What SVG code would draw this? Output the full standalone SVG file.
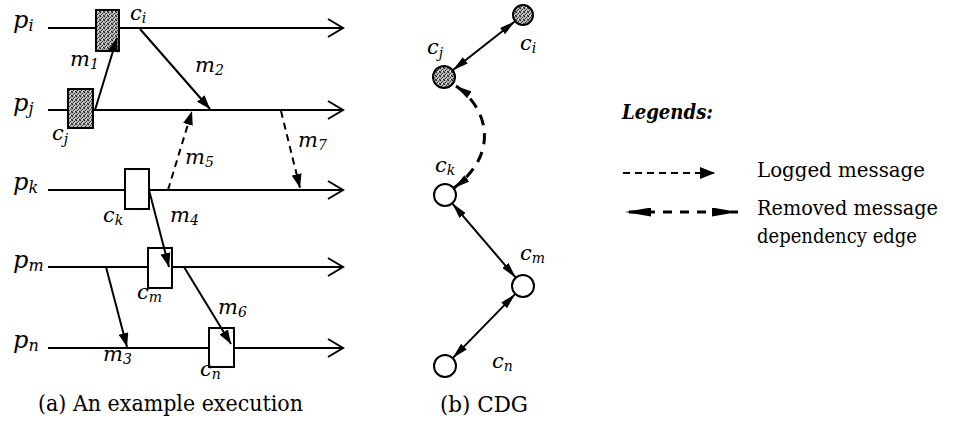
<svg xmlns="http://www.w3.org/2000/svg" width="955" height="426" viewBox="0 0 955 426" font-family="'DejaVu Serif', 'Liberation Serif', serif">
<style>
text{font-family:"DejaVu Serif","Liberation Serif",serif;fill:#000}
.lbl{font-style:italic}
.p{font-size:24px}
.c{font-size:21px}
.m{font-size:21px}
.cap{font-size:22px}
.leg{font-size:20px}
.proc{stroke:#000;stroke-width:2;fill:none}
.msg{stroke:#000;stroke-width:2;fill:none;marker-end:url(#ah)}
.dmsg{stroke:#000;stroke-width:2;fill:none;stroke-dasharray:7,5;marker-end:url(#ah)}
.box{stroke:#000;stroke-width:2;fill:#fff}
.sbox{stroke:#000;stroke-width:2;fill:url(#stip)}
.edge{stroke:#000;stroke-width:2;fill:none;marker-start:url(#eh);marker-end:url(#eh)}
.node{stroke:#000;stroke-width:2;fill:#fff}
.snode{stroke:#000;stroke-width:2;fill:url(#stip)}
</style>
<defs>
<pattern id="stip" width="4" height="4" patternUnits="userSpaceOnUse">
<rect width="4" height="4" fill="#b5b5b5"/>
<rect x="0" y="0" width="1" height="1" fill="#222"/>
<rect x="2" y="1" width="1" height="1" fill="#444"/>
<rect x="1" y="2" width="1" height="1" fill="#333"/>
<rect x="3" y="3" width="1" height="1" fill="#222"/>
<rect x="3" y="0" width="1" height="1" fill="#666"/>
<rect x="0" y="3" width="1" height="1" fill="#555"/>
<rect x="2" y="3" width="1" height="1" fill="#eee"/>
</pattern>
<marker id="ah" markerUnits="userSpaceOnUse" viewBox="0 0 14 10" markerWidth="14" markerHeight="10" refX="14" refY="5" orient="auto">
<path d="M0,0 L14,5 L0,10 z" fill="#000"/>
</marker>
<marker id="eh" markerUnits="userSpaceOnUse" viewBox="0 0 16 8" markerWidth="16" markerHeight="8" refX="16" refY="4" orient="auto-start-reverse">
<path d="M0,0 L16,4 L0,8 z" fill="#000"/>
</marker>
<marker id="lh" markerUnits="userSpaceOnUse" viewBox="0 0 15 12" markerWidth="15" markerHeight="12" refX="15" refY="6" orient="auto">
<path d="M0,0 L15,6 L0,12 z" fill="#000"/>
</marker>
<marker id="rh" markerUnits="userSpaceOnUse" viewBox="0 0 26 9" markerWidth="26" markerHeight="9" refX="26" refY="4.5" orient="auto-start-reverse">
<path d="M0,0 L26,4.5 L0,9 z" fill="#000"/>
</marker>
</defs>

<g id="processes">
<g id="pi"><line class="proc" x1="48" y1="28" x2="343" y2="28"/><polyline class="proc" points="328,19 343,28 328,37"/>
<text class="lbl p" x="13" y="28">p<tspan font-size="16" dy="3">i</tspan></text></g>
<g id="pj"><line class="proc" x1="48" y1="110" x2="343" y2="110"/><polyline class="proc" points="328,101 343,110 328,119"/>
<text class="lbl p" x="13" y="111">p<tspan font-size="16" dy="3">j</tspan></text></g>
<g id="pk"><line class="proc" x1="48" y1="190" x2="343" y2="190"/><polyline class="proc" points="328,181 343,190 328,199"/>
<text class="lbl p" x="13" y="190">p<tspan font-size="16" dy="3">k</tspan></text></g>
<g id="pm"><line class="proc" x1="48" y1="267" x2="343" y2="267"/><polyline class="proc" points="328,258 343,267 328,276"/>
<text class="lbl p" x="13" y="268">p<tspan font-size="16" dy="3">m</tspan></text></g>
<g id="pn"><line class="proc" x1="48" y1="348" x2="343" y2="348"/><polyline class="proc" points="328,339 343,348 328,357"/>
<text class="lbl p" x="13" y="348">p<tspan font-size="16" dy="3">n</tspan></text></g>
</g>

<g id="checkpoints">
<g id="ci"><rect class="sbox" x="96" y="10" width="23" height="41"/><text class="lbl c" x="130" y="20">c<tspan font-size="14" dy="3">i</tspan></text></g>
<g id="cj"><rect class="sbox" x="68" y="89" width="25" height="39"/><text class="lbl c" x="52" y="140">c<tspan font-size="14" dy="4">j</tspan></text></g>
<g id="ck"><rect class="box" x="125" y="169" width="24" height="40"/><text class="lbl c" x="103" y="222">c<tspan font-size="14" dy="3">k</tspan></text></g>
<g id="cm"><rect class="box" x="148" y="248" width="24" height="40"/><text class="lbl c" x="137" y="299">c<tspan font-size="14" dy="3">m</tspan></text></g>
<g id="cn"><rect class="box" x="209" y="328" width="25" height="39"/><text class="lbl c" x="200" y="376">c<tspan font-size="14" dy="3">n</tspan></text></g>
</g>

<g id="messages">
<line class="msg" x1="95" y1="110" x2="117" y2="38"/>
<line class="msg" x1="140" y1="29" x2="210" y2="109"/>
<line class="msg" x1="106" y1="267" x2="127" y2="347"/>
<line class="msg" x1="149" y1="190" x2="169" y2="267"/>
<line class="dmsg" x1="168" y1="190" x2="192" y2="111"/>
<line class="msg" x1="184" y1="267" x2="231" y2="344"/>
<line class="dmsg" x1="281" y1="111" x2="300" y2="188"/>
</g>
<g id="message-labels">
<text class="lbl m" x="70" y="66">m<tspan font-size="14" dy="3">1</tspan></text>
<text class="lbl m" x="195" y="72">m<tspan font-size="14" dy="3">2</tspan></text>
<text class="lbl m" x="103" y="361">m<tspan font-size="14" dy="3">3</tspan></text>
<text class="lbl m" x="170" y="222">m<tspan font-size="14" dy="3">4</tspan></text>
<text class="lbl m" x="185" y="164">m<tspan font-size="14" dy="3">5</tspan></text>
<text class="lbl m" x="218" y="314">m<tspan font-size="14" dy="3">6</tspan></text>
<text class="lbl m" x="298" y="147">m<tspan font-size="14" dy="3">7</tspan></text>
</g>
<text class="cap" x="38" y="411" textLength="265" lengthAdjust="spacingAndGlyphs">(a) An example execution</text>

<g id="cdg-edges">
<line class="edge" x1="452.7" y1="70.2" x2="515.1" y2="21.2"/>
<path d="M456,86 C486,106 502,152 454,188" stroke="#000" stroke-width="3" fill="none" stroke-dasharray="11,8" marker-start="url(#eh)" marker-end="url(#eh)"/>
<line class="edge" x1="452.2" y1="203.3" x2="515.8" y2="277.7"/>
<line class="edge" x1="515.3" y1="293.9" x2="452.7" y2="358.1"/>
</g>
<g id="cdg-ci"><circle class="snode" cx="523" cy="15" r="10"/><text class="lbl c" x="520" y="50">c<tspan font-size="14" dy="3">i</tspan></text></g>
<g id="cdg-cj"><circle class="snode" cx="444" cy="77" r="11"/><text class="lbl c" x="427" y="54">c<tspan font-size="14" dy="4">j</tspan></text></g>
<g id="cdg-ck"><circle class="node" cx="445" cy="195" r="11"/><text class="lbl c" x="435" y="172">c<tspan font-size="14" dy="3">k</tspan></text></g>
<g id="cdg-cm"><circle class="node" cx="523" cy="286" r="11"/><text class="lbl c" x="520" y="260">c<tspan font-size="14" dy="3">m</tspan></text></g>
<g id="cdg-cn"><circle class="node" cx="445" cy="366" r="11"/><text class="lbl c" x="492" y="368">c<tspan font-size="14" dy="3">n</tspan></text></g>
<text class="cap" x="440" y="412" textLength="88" lengthAdjust="spacingAndGlyphs">(b) CDG</text>

<g id="legend">
<text class="leg" x="622" y="119" font-size="21" font-weight="bold" font-style="italic" textLength="91" lengthAdjust="spacingAndGlyphs">Legends:</text>
<line x1="623" y1="173" x2="715" y2="173" stroke="#000" stroke-width="2" stroke-dasharray="7,5" marker-end="url(#lh)"/>
<text class="leg" x="757" y="177" textLength="168" lengthAdjust="spacingAndGlyphs">Logged message</text>
<line x1="625" y1="212" x2="738" y2="212" stroke="#000" stroke-width="3" stroke-dasharray="9,8" stroke-dashoffset="-4" marker-start="url(#rh)" marker-end="url(#rh)"/>
<text class="leg" x="757" y="215" textLength="181" lengthAdjust="spacingAndGlyphs">Removed message</text>
<text class="leg" x="757" y="243" textLength="160" lengthAdjust="spacingAndGlyphs">dependency edge</text>
</g>
</svg>
